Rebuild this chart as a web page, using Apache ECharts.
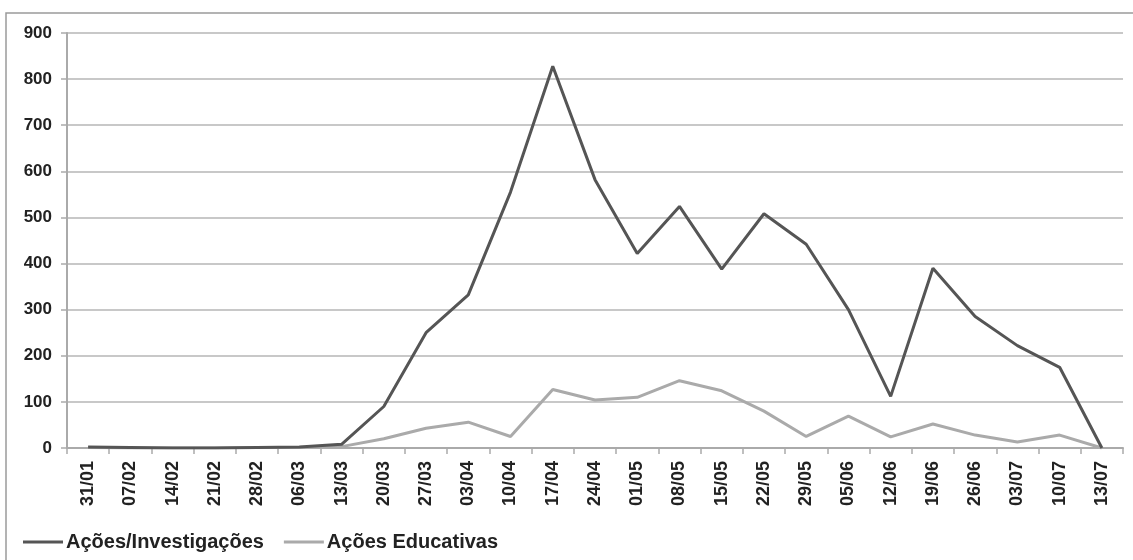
<!DOCTYPE html>
<html>
<head>
<meta charset="utf-8">
<script src="https://cdn.jsdelivr.net/npm/echarts@6/dist/echarts.min.js"></script>
<style>
  html, body { margin: 0; padding: 0; background: #fff; }
  #chart { width: 1133px; height: 560px; }
</style>
</head>
<body>
<div id="chart"></div>
<script>
// semanas
const categories = ['31/01', '07/02', '14/02', '21/02', '28/02', '06/03', '13/03', '20/03', '27/03', '03/04',
    '10/04', '17/04', '24/04', '01/05', '08/05', '15/05', '22/05', '29/05', '05/06', '12/06',
    '19/06', '26/06', '03/07', '10/07', '13/07']

const investigacoes = [2, 1, 0, 0, 1, 2, 8, 90, 250, 332, 555, 828, 582, 422, 524, 388, 508, 442, 300, 112,
    390, 285, 222, 175, 0]

const educativas = [1, 0, 0, 0, 1, 1, 3, 20, 43, 56, 25, 127, 104, 110, 146, 124, 80, 25, 69, 24,
    52, 28, 13, 28, 0]

const yTicks = [0, 100, 200, 300, 400, 500, 600, 700, 800, 900]

const font = 'Liberation Sans, Arial, sans-serif'

const chart = echarts.init(document.getElementById('chart'), null, {renderer: 'canvas'})

const option = {
    animation: false,
    backgroundColor: '#fff',
    graphic: [
        {
            type: 'rect',
            shape: {x: 6, y: 13, width: 1160, height: 580},
            style: {fill: 'none', stroke: '#9a9a9a', lineWidth: 1.5},
            silent: true,
            z: -1
        }
    ],
    grid: {
        left: 67,
        right: 10,
        top: 33,
        bottom: 112,
        containLabel: false
    },
    legend: {
        left: 18,
        top: 527,
        itemWidth: 40,
        itemHeight: 3,
        itemGap: 20,
        icon: 'rect',
        textStyle: {
            fontFamily: font,
            fontWeight: 'bold',
            fontSize: 20,
            color: '#222',
            padding: [0, 0, 0, -2]
        },
        data: ['Ações/Investigações', 'Ações Educativas']
    },
    xAxis: {
        type: 'category',
        boundaryGap: true,
        data: categories,
        axisLine: {show: true, lineStyle: {color: '#aaa', width: 2}},
        axisTick: {show: true, length: 6, lineStyle: {color: '#aaa', width: 1.5}},
        axisLabel: {
            rotate: 90,
            interval: 0,
            margin: 13,
            fontFamily: font,
            fontWeight: 'bold',
            fontSize: 18,
            color: '#222'
        },
        splitLine: {show: false}
    },
    yAxis: {
        type: 'value',
        min: yTicks[0],
        max: yTicks[yTicks.length - 1],
        interval: 100,
        axisLine: {show: true, lineStyle: {color: '#aaa', width: 2}},
        axisTick: {show: true, length: 6, lineStyle: {color: '#aaa', width: 1.5}},
        axisLabel: {
            margin: 15,
            fontFamily: font,
            fontWeight: 'bold',
            fontSize: 17,
            color: '#222'
        },
        splitLine: {lineStyle: {color: '#c8c8c8', width: 2}}
    },
    series: [
        {
            name: 'Ações/Investigações',
            type: 'line',
            symbol: 'none',
            data: investigacoes,
            color: '#555',
            lineStyle: {color: '#555', width: 3},
            z: 3
        },
        {
            name: 'Ações Educativas',
            type: 'line',
            symbol: 'none',
            data: educativas,
            color: '#aaa',
            lineStyle: {color: '#aaa', width: 3},
            z: 2
        }
    ]
}

chart.setOption(option)
</script>
</body>
</html>
